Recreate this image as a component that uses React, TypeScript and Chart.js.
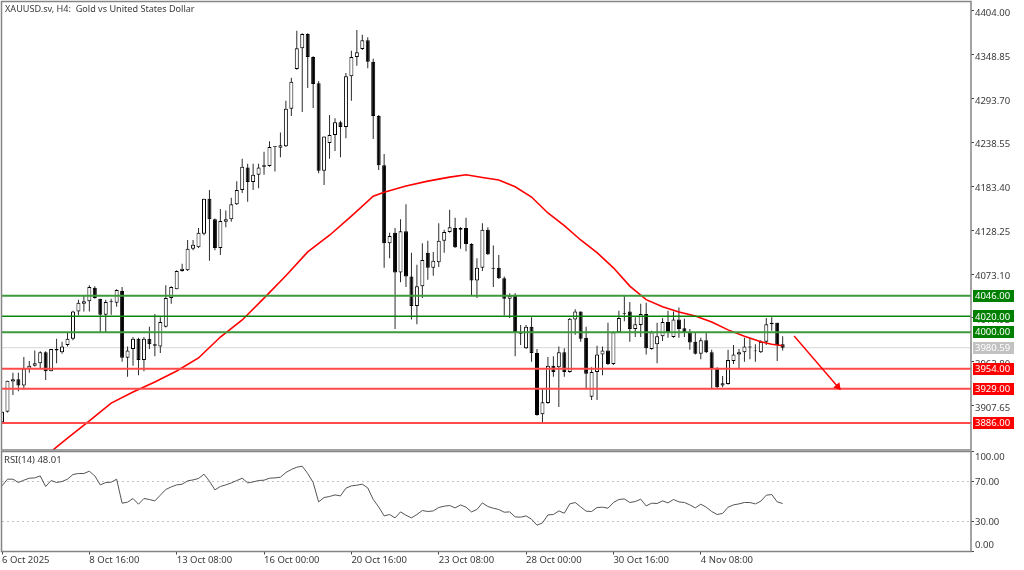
import { useEffect, useRef } from "react";
import Chart from "chart.js/auto";

const symbolTitle = "XAUUSD.sv, H4:  Gold vs United States Dollar";
const rsiTitle = "RSI(14) 48.01";

const opens = [
  3887, 3900, 3938, 3941, 3933, 3954, 3958, 3961, 3975, 3951,
  3979, 3975, 3984, 3992, 4026, 4036, 4039, 4056, 4042, 4022,
  4038, 4037, 4052, 3968, 3979, 3992, 3965, 3992, 3985, 3982,
  4007, 4043, 4054, 4077, 4078, 4105, 4107, 4124, 4168, 4142,
  4106, 4139, 4142, 4161, 4179, 4207, 4189, 4198, 4208, 4209,
  4233, 4232, 4234, 4281, 4331, 4357, 4375, 4346, 4313, 4203,
  4238, 4248, 4264, 4258, 4322, 4346, 4356, 4367, 4340, 4272,
  4210, 4112, 4125, 4075, 4127, 4070, 4033, 4058, 4100, 4081,
  4088, 4115, 4126, 4131, 4129, 4131, 4111, 4065, 4081, 4129,
  4081, 4081, 4068, 4042, 4046, 3999, 3980, 4007, 3974, 3897,
  3911, 3958, 3956, 3975, 3950, 4016, 4026, 3993, 3919, 3950,
  3972, 3977, 3960, 4000, 4024, 4026, 4004, 4009, 4023, 3979,
  3985, 3995, 4013, 3994, 4016, 4005, 4000, 3988, 3973, 3990,
  3975, 3955, 3933, 3935, 3964, 3972, 3975, 3982, 3976, 3975,
  3988, 4010, 4012, 3985,
];
const closes = [
  3900, 3939, 3941, 3933, 3954, 3958, 3961, 3975, 3951, 3979,
  3977, 3982, 3992, 4026, 4037, 4039, 4057, 4043, 4022, 4038,
  4039, 4053, 3968, 3977, 3992, 3965, 3992, 3985, 3983, 4013,
  4043, 4057, 4077, 4080, 4105, 4110, 4125, 4168, 4142, 4106,
  4140, 4142, 4161, 4179, 4208, 4189, 4198, 4207, 4210, 4233,
  4234, 4235, 4281, 4315, 4357, 4375, 4346, 4312, 4203, 4246,
  4248, 4264, 4258, 4322, 4346, 4352, 4367, 4340, 4272, 4210,
  4112, 4121, 4075, 4127, 4070, 4033, 4058, 4091, 4081, 4090,
  4115, 4126, 4132, 4107, 4131, 4111, 4065, 4081, 4129, 4098,
  4080, 4068, 4042, 4046, 3999, 3998, 4007, 3974, 3896, 3912,
  3958, 3950, 3975, 3950, 4017, 4026, 3992, 3948, 3950, 3972,
  3977, 3960, 4000, 4018, 4023, 4004, 4010, 4023, 3980, 4000,
  3995, 4013, 4000, 4016, 4004, 4000, 3987, 3973, 3990, 3975,
  3955, 3931, 3936, 3965, 3972, 3975, 3982, 3981, 3977, 3988,
  4010, 4012, 3984, 3980.59,
];
const highs = [
  3900, 3939, 3949, 3949, 3969, 3964, 3977, 3976, 3976, 3979,
  3992, 3988, 4000, 4027, 4041, 4047, 4059, 4058, 4042, 4041,
  4042, 4054, 4057, 3982, 3994, 3993, 3994, 4007, 4023, 4019,
  4059, 4058, 4078, 4086, 4116, 4116, 4131, 4168, 4179, 4143,
  4155, 4153, 4169, 4190, 4218, 4212, 4212, 4212, 4227, 4240,
  4234, 4251, 4291, 4320, 4379, 4376, 4376, 4347, 4316, 4246,
  4273, 4269, 4266, 4326, 4354, 4380, 4374, 4371, 4344, 4273,
  4224, 4125, 4131, 4142, 4161, 4100, 4085, 4112, 4115, 4101,
  4137, 4129, 4154, 4144, 4132, 4144, 4112, 4093, 4137, 4132,
  4109, 4097, 4070, 4049, 4049, 4009, 4009, 4019, 3979, 3930,
  3969, 3970, 3982, 3980, 4018, 4029, 4026, 4007, 3956, 3983,
  3982, 4012, 4001, 4027, 4046, 4038, 4019, 4036, 4037, 4002,
  4012, 4018, 4027, 4026, 4031, 4017, 4004, 3999, 3993, 3999,
  3978, 3956, 3945, 3978, 3984, 3979, 3993, 3993, 3985, 3990,
  4018, 4019, 4012, 3995,
];
const lows = [
  3886, 3899, 3921, 3926, 3928, 3949, 3957, 3955, 3940, 3951,
  3961, 3973, 3982, 3990, 4021, 4026, 4026, 4042, 3999, 4000,
  4022, 4032, 3963, 3944, 3958, 3946, 3951, 3979, 3970, 3974,
  4006, 4036, 4054, 4076, 4077, 4103, 4106, 4122, 4090, 4103,
  4097, 4132, 4139, 4160, 4175, 4164, 4179, 4181, 4198, 4208,
  4202, 4220, 4233, 4272, 4330, 4277, 4307, 4282, 4200, 4185,
  4218, 4228, 4220, 4244, 4291, 4335, 4355, 4332, 4243, 4204,
  4081, 4093, 4004, 4063, 4057, 4016, 4010, 4043, 4066, 4071,
  4082, 4100, 4125, 4106, 4105, 4102, 4046, 4043, 4077, 4097,
  4057, 4067, 4021, 4018, 3970, 3984, 3979, 3963, 3895, 3886,
  3910, 3944, 3906, 3944, 3949, 3997, 3988, 3928, 3915, 3915,
  3946, 3959, 3959, 3999, 4014, 3988, 3994, 3994, 3972, 3978,
  3961, 3989, 3993, 3993, 3993, 3994, 3978, 3972, 3966, 3974,
  3929, 3930, 3931, 3934, 3960, 3954, 3963, 3966, 3963, 3974,
  3984, 4002, 3964, 3977,
];

// moving average at these bars
const maBars = [
  8, 12, 16, 20, 24, 28, 32, 36, 40, 44, 48, 52, 56, 60, 64, 68, 70, 74, 78, 82, 85,
  88, 91, 94, 97, 100, 103, 106, 109, 112, 115, 118, 121, 124, 127, 130, 133, 136, 139, 141, 143,
];
const maValues = [
  3844.5, 3867, 3888.5, 3911, 3925, 3937.5, 3951.4, 3967.7, 3994, 4015.5, 4043, 4071, 4101, 4122, 4146, 4171, 4176, 4184, 4190, 4195, 4198,
  4194.6, 4191.5, 4183, 4170, 4150, 4134, 4116, 4100, 4081, 4058, 4041, 4032, 4025.5, 4020.5, 4013, 4003, 3995, 3988, 3985, 3983,
];

const rsiValues = [
  65.6, 72.3, 72.3, 69, 71.3, 73.3, 73.6, 75.6, 65, 71,
  69, 70, 72.3, 77, 78, 78, 80.3, 75.6, 66.6, 69,
  69.3, 72.3, 48.3, 49.3, 53, 47.3, 53, 52, 50.6, 56.3,
  62, 64.6, 66.6, 67.3, 70.6, 71.6, 73, 77.3, 70.3, 61.6,
  65, 66.6, 68.6, 71, 73.3, 68.6, 69.6, 71, 71.3, 73.3,
  73.6, 74.3, 79, 82, 84.3, 85.3, 78, 69, 49.6, 54,
  55, 56.6, 55.6, 63.3, 65.6, 66.3, 67.3, 63.6, 52, 44.6,
  35.6, 37, 33.6, 39.6, 36.3, 33.6, 37, 41, 40, 40.6,
  44, 45.3, 46, 43.6, 46.6, 44.3, 39.6, 42, 48.6, 45,
  43.3, 42, 39.3, 39.6, 34.6, 34.3, 35.6, 32.3, 26.3, 28.6,
  36.6, 37, 40.6, 38.3, 47.6, 49, 44.6, 40.3, 40, 44,
  44.3, 43.3, 49, 52, 52.6, 49, 50, 52.3, 45.6, 48.3,
  48, 50.6, 48.6, 52, 49.6, 49, 46.6, 43.6, 47.3, 44.3,
  40, 37, 38, 44.3, 46.6, 47.6, 49, 49, 47.6, 50.3,
  56.3, 57, 49.6, 48,
];

const priceTicks = [4404, 4348.85, 4293.7, 4238.55, 4183.4, 4128.25, 4073.1, 4017.95, 3962.8, 3907.65];
const rsiTicks = [100, 70, 30, 0];
const timeTickBars = [0, 16, 32, 48, 64, 80, 96, 112, 128];
const timeLabels = [
  "6 Oct 2025", "8 Oct 16:00", "13 Oct 08:00", "16 Oct 00:00", "20 Oct 16:00",
  "23 Oct 08:00", "28 Oct 00:00", "30 Oct 16:00", "4 Nov 08:00",
];

const resistanceLevels = [4046, 4020, 4000];
const supportLevels = [3954, 3929, 3886];
const lastPrice = 3980.59;
const arrowBars = [145.1, 153.1];
const arrowPrices = [3995.3, 3931.6];

const barMin = 0;
const barMax = 177.5;
const FONT = "9.5px 'Noto Sans'";
const TEXT = "#3a3a3a";
const FRAME = "#858585";

const bull = (i: number) => closes[i] >= opens[i];

// labels at the edge of a pane must not shrink the plot area
const noPadding = (s: any) => {
  s.paddingTop = 0;
  s.paddingBottom = 0;
  s.paddingLeft = 0;
  s.paddingRight = 0;
};

function tag(ctx: CanvasRenderingContext2D, y: number, text: string, color: string) {
  ctx.fillStyle = color;
  ctx.fillRect(973, Math.round(y) - 6, 41, 12);
  ctx.fillStyle = "#ffffff";
  ctx.font = FONT;
  ctx.textAlign = "left";
  ctx.textBaseline = "middle";
  ctx.fillText(text, 975, y + 0.5);
}

const pricePanel = {
  id: "pricePanel",
  afterDraw(chart: any) {
    const { ctx, chartArea: a, scales } = chart;
    ctx.save();
    ctx.strokeStyle = FRAME;
    ctx.lineWidth = 1.5;
    ctx.strokeRect(a.left - 0.5, a.top - 0.5, a.right - a.left + 0.5, a.bottom - a.top + 0.5);
    ctx.fillStyle = TEXT;
    ctx.font = "9.1px 'Noto Sans'";
    ctx.textAlign = "left";
    ctx.textBaseline = "middle";
    ctx.fillText(symbolTitle, 5, 9);
    tag(ctx, scales.y.getPixelForValue(lastPrice), lastPrice.toFixed(2), "#c2c2c2");
    resistanceLevels.forEach((v) => tag(ctx, scales.y.getPixelForValue(v), v.toFixed(2), "#008000"));
    supportLevels.forEach((v) => tag(ctx, scales.y.getPixelForValue(v), v.toFixed(2), "#ff0000"));
    ctx.restore();
  },
};

const rsiPanel = {
  id: "rsiPanel",
  afterDraw(chart: any) {
    const { ctx, chartArea: a } = chart;
    ctx.save();
    ctx.strokeStyle = FRAME;
    ctx.lineWidth = 1.5;
    ctx.strokeRect(a.left - 0.5, a.top, a.right - a.left + 0.5, a.bottom - a.top);
    ctx.fillStyle = TEXT;
    ctx.font = FONT;
    ctx.textBaseline = "middle";
    ctx.textAlign = "left";
    ctx.fillText(rsiTitle, 4, 9.5);
    // MT5 pushes the end labels inside the pane
    ctx.fillText(rsiTicks[0].toFixed(2), 975, a.top + 6);
    ctx.fillText(rsiTicks[3].toFixed(2), 975, a.bottom - 6);
    ctx.restore();
  },
};

function levelLine(value: number, color: string, width: number) {
  return {
    type: "line",
    data: [
      { x: barMin, y: value },
      { x: barMax, y: value },
    ],
    borderColor: color,
    borderWidth: width,
    pointRadius: 0,
    order: 1,
  };
}

export default function App() {
  const priceRef = useRef<HTMLCanvasElement>(null);
  const rsiRef = useRef<HTMLCanvasElement>(null);

  useEffect(() => {
    if (!priceRef.current || !rsiRef.current) return;

    const bars = opens.map((_, i) => i);
    const price = new Chart(priceRef.current, {
      type: "bar",
      data: {
        datasets: [
          {
            label: "wick",
            data: bars.map((i) => ({ x: i, y: [lows[i], highs[i]] })),
            backgroundColor: "#2b2b2b",
            barThickness: 1,
            grouped: false,
            inflateAmount: 0,
            order: 4,
          },
          {
            label: "body",
            data: bars.map((i) => ({ x: i, y: [opens[i], closes[i]] })),
            backgroundColor: bars.map((i) => (bull(i) ? "#ffffff" : "#000000")),
            borderColor: "#000000",
            borderWidth: 1,
            borderSkipped: false,
            barThickness: 4,
            grouped: false,
            inflateAmount: 0,
            order: 3,
          },
          {
            type: "line",
            label: "last",
            data: [
              { x: barMin, y: lastPrice },
              { x: barMax, y: lastPrice },
            ],
            borderColor: "#d6d6d6",
            borderWidth: 1,
            pointRadius: 0,
            order: 5,
          },
          {
            type: "line",
            label: "ma",
            data: maBars.map((b, i) => ({ x: b, y: maValues[i] })),
            borderColor: "#ff0000",
            borderWidth: 1.6,
            pointRadius: 0,
            order: 2,
          },
          levelLine(resistanceLevels[0], "#3c9a3c", 2),
          levelLine(resistanceLevels[1], "#0b860b", 1.5),
          levelLine(resistanceLevels[2], "#3c9a3c", 2),
          levelLine(supportLevels[0], "#ff4a4a", 2),
          levelLine(supportLevels[1], "#ff4a4a", 2),
          levelLine(supportLevels[2], "#ff4a4a", 2),
          {
            type: "line",
            label: "arrow",
            data: arrowBars.map((b, i) => ({ x: b, y: arrowPrices[i] })),
            borderColor: "#ff0000",
            borderWidth: 1.4,
            pointStyle: "triangle",
            pointRadius: [0, 3.2],
            pointRotation: 140,
            pointBackgroundColor: "#ff0000",
            pointBorderColor: "#ff0000",
            order: 0,
          },
        ] as any,
      },
      options: {
        responsive: false,
        animation: false,
        devicePixelRatio: 1,
        layout: { autoPadding: false, padding: { left: 2, top: 2, right: 0, bottom: 1 } },
        plugins: { legend: { display: false }, tooltip: { enabled: false } },
        scales: {
          x: { type: "linear", min: barMin, max: barMax, display: false, offset: false },
          y: {
            position: "right",
            min: 3852,
            max: 4415.2,
            afterFit: (s: any) => {
              s.width = 1024 - 971;
              noPadding(s);
            },
            afterBuildTicks: (s: any) => {
              s.ticks = priceTicks.map((value) => ({ value }));
            },
            grid: { drawOnChartArea: false, tickLength: 3, color: "#444444" },
            border: { display: false },
            ticks: {
              autoSkip: false,
              padding: 1,
              labelOffset: 2.2,
              color: TEXT,
              font: { family: "'Noto Sans'", size: 9.5 },
              callback: (v: any) => Number(v).toFixed(2),
            },
          },
        },
      } as any,
      plugins: [pricePanel],
    });

    const rsi = new Chart(rsiRef.current, {
      type: "line",
      data: {
        datasets: [
          {
            data: bars.map((i) => ({ x: i, y: rsiValues[i] })),
            borderColor: "#555555",
            borderWidth: 1,
            pointRadius: 0,
          },
        ],
      },
      options: {
        responsive: false,
        animation: false,
        devicePixelRatio: 1,
        layout: { autoPadding: false, padding: { left: 2, top: 0.5, right: 0, bottom: 0 } },
        plugins: { legend: { display: false }, tooltip: { enabled: false } },
        scales: {
          x: {
            type: "linear",
            min: barMin,
            max: barMax,
            afterFit: (s: any) => {
              s.height = 18.5;
              noPadding(s);
            },
            afterBuildTicks: (s: any) => {
              s.ticks = timeTickBars.map((value) => ({ value }));
            },
            grid: { drawOnChartArea: false, tickLength: 3, color: "#444444" },
            border: { display: false },
            ticks: {
              autoSkip: false,
              maxRotation: 0,
              align: "start",
              padding: 0,
              color: TEXT,
              font: { family: "'Noto Sans'", size: 9.5 },
              callback: (v: any) => timeLabels[timeTickBars.indexOf(Number(v))],
            },
          },
          y: {
            position: "right",
            min: 0,
            max: 100,
            afterFit: (s: any) => {
              s.width = 1024 - 971;
              noPadding(s);
            },
            afterBuildTicks: (s: any) => {
              s.ticks = rsiTicks.map((value) => ({ value }));
            },
            grid: {
              tickLength: 3,
              color: (c: any) => (c.tick && (c.tick.value === 70 || c.tick.value === 30) ? "#c4c4c4" : "rgba(0,0,0,0)"),
              tickColor: "#444444",
            },
            border: { display: false, dash: [2, 3] },
            ticks: {
              autoSkip: false,
              padding: 1,
              labelOffset: 1,
              color: TEXT,
              font: { family: "'Noto Sans'", size: 9.5 },
              callback: (v: any) => (v === 70 || v === 30 ? Number(v).toFixed(2) : ""),
            },
          },
        },
      } as any,
      plugins: [rsiPanel],
    });

    return () => {
      price.destroy();
      rsi.destroy();
    };
  }, []);

  return (
    <div style={{ position: "absolute", left: 0, top: 0, width: 1024, height: 570, background: "#ffffff", overflow: "hidden" }}>
      <canvas ref={priceRef} width={1024} height={451} style={{ position: "absolute", left: 0, top: 0 }} />
      <canvas ref={rsiRef} width={1024} height={119} style={{ position: "absolute", left: 0, top: 451 }} />
    </div>
  );
}
